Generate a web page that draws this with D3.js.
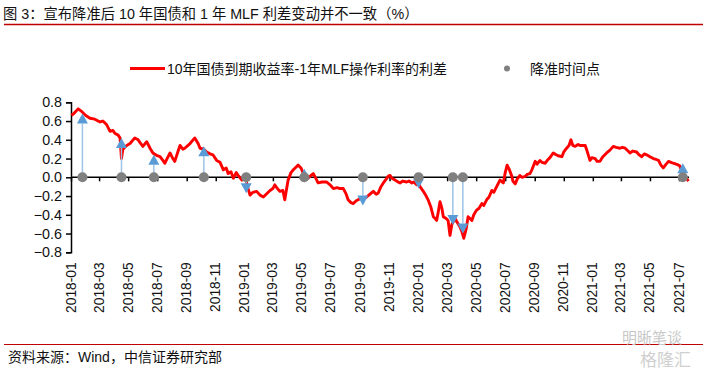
<!DOCTYPE html>
<html>
<head>
<meta charset="utf-8">
<script src="https://cdn.jsdelivr.net/npm/d3@7"></script>
<style>
  body { margin: 0; background: #fff; }
  svg { display: block; font-family: "Liberation Sans", Arial, "Noto Sans CJK SC", sans-serif; }
</style>
</head>
<body>
<script>
// 10Y CGB yield minus 1Y MLF rate
const spreadDates = [
  "2018-01-02","2018-01-07","2018-01-16","2018-01-24","2018-02-01","2018-02-10","2018-02-20","2018-03-03","2018-03-09","2018-03-17",
  "2018-03-24","2018-03-30","2018-04-03","2018-04-10","2018-04-14","2018-04-17","2018-04-20","2018-04-28","2018-05-05","2018-05-15",
  "2018-05-22","2018-05-26","2018-06-01","2018-06-09","2018-06-16","2018-06-22","2018-07-01","2018-07-07","2018-07-13","2018-07-17",
  "2018-07-24","2018-07-28","2018-08-03","2018-08-07","2018-08-14","2018-08-18","2018-08-24","2018-08-28","2018-09-08","2018-09-18",
  "2018-09-25","2018-09-29","2018-10-07","2018-10-13","2018-10-20","2018-10-26","2018-11-03","2018-11-10","2018-11-17","2018-11-23",
  "2018-11-27","2018-12-03","2018-12-08","2018-12-14","2018-12-18","2018-12-26","2018-12-30","2019-01-04","2019-01-08","2019-01-12",
  "2019-01-18","2019-01-26","2019-02-02","2019-02-09","2019-02-15","2019-02-23","2019-03-01","2019-03-05","2019-03-12","2019-03-16",
  "2019-03-22","2019-03-26","2019-04-02","2019-04-08","2019-04-13","2019-04-19","2019-04-23","2019-04-29","2019-05-04","2019-05-10",
  "2019-05-14","2019-05-20","2019-05-25","2019-05-31","2019-06-04","2019-06-12","2019-06-22","2019-06-29","2019-07-06","2019-07-14",
  "2019-07-20","2019-07-27","2019-08-02","2019-08-06","2019-08-12","2019-08-17","2019-08-23","2019-08-27","2019-09-02","2019-09-05",
  "2019-09-14","2019-09-21","2019-09-28","2019-10-04","2019-10-08","2019-10-14","2019-10-19","2019-10-25","2019-10-29","2019-11-02",
  "2019-11-06","2019-11-13","2019-11-19","2019-11-23","2019-11-29","2019-12-07","2019-12-12","2019-12-18","2019-12-22","2019-12-28",
  "2019-12-31","2020-01-04","2020-01-11","2020-01-17","2020-01-21","2020-01-27","2020-02-01","2020-02-05","2020-02-08","2020-02-11",
  "2020-02-15","2020-02-19","2020-02-22","2020-02-28","2020-03-03","2020-03-07","2020-03-11","2020-03-18","2020-03-22","2020-03-28",
  "2020-04-01","2020-04-05","2020-04-10","2020-04-14","2020-04-18","2020-04-22","2020-04-26","2020-05-02","2020-05-07","2020-05-13",
  "2020-05-17","2020-05-23","2020-05-28","2020-06-03","2020-06-07","2020-06-13","2020-06-16","2020-06-20","2020-06-27","2020-07-01",
  "2020-07-05","2020-07-09","2020-07-15","2020-07-17","2020-07-22","2020-07-26","2020-08-01","2020-08-05","2020-08-12","2020-08-16",
  "2020-08-22","2020-08-26","2020-09-02","2020-09-06","2020-09-12","2020-09-16","2020-09-23","2020-09-29","2020-10-03","2020-10-10",
  "2020-10-16","2020-10-20","2020-10-28","2020-11-01","2020-11-07","2020-11-12","2020-11-16","2020-11-20","2020-11-25","2020-12-01",
  "2020-12-05","2020-12-11","2020-12-16","2020-12-20","2020-12-26","2020-12-30","2021-01-06","2021-01-10","2021-01-16","2021-01-22",
  "2021-01-30","2021-02-06","2021-02-13","2021-02-19","2021-02-27","2021-03-04","2021-03-10","2021-03-16","2021-03-20","2021-03-26",
  "2021-04-03","2021-04-08","2021-04-14","2021-04-19","2021-04-24","2021-05-01","2021-05-08","2021-05-14","2021-05-19","2021-05-24",
  "2021-05-29","2021-06-04","2021-06-09","2021-06-14","2021-06-19","2021-06-25","2021-06-30","2021-07-03","2021-07-07","2021-07-12",
  "2021-07-18","2021-07-21"
];
const spreadValues = [
  0.66,0.68,0.73,0.70,0.66,0.63,0.62,0.59,0.60,0.56,
  0.49,0.50,0.47,0.45,0.42,0.20,0.30,0.34,0.36,0.42,
  0.40,0.37,0.33,0.38,0.31,0.26,0.23,0.22,0.18,0.15,
  0.22,0.26,0.20,0.17,0.28,0.34,0.30,0.31,0.36,0.42,
  0.36,0.31,0.30,0.27,0.25,0.24,0.18,0.16,0.08,0.10,
  0.04,0.06,-0.01,0.05,0.02,-0.03,0.02,-0.04,-0.12,-0.19,
  -0.16,-0.15,-0.19,-0.21,-0.18,-0.14,-0.12,-0.08,-0.13,-0.15,
  -0.14,-0.24,-0.03,0.05,0.08,0.11,0.13,0.10,0.04,0.02,
  -0.01,0.02,0.04,-0.02,-0.06,-0.05,-0.05,-0.08,-0.12,-0.11,
  -0.12,-0.12,-0.18,-0.24,-0.27,-0.28,-0.25,-0.24,-0.22,-0.24,
  -0.21,-0.18,-0.15,-0.18,-0.17,-0.10,-0.06,-0.02,0.01,0.02,
  -0.01,-0.03,-0.05,-0.06,-0.04,-0.05,-0.04,-0.06,-0.05,-0.08,
  -0.05,-0.10,-0.15,-0.20,-0.24,-0.32,-0.42,-0.44,-0.46,-0.38,
  -0.26,-0.33,-0.42,-0.44,-0.46,-0.62,-0.50,-0.44,-0.48,-0.53,
  -0.58,-0.65,-0.55,-0.42,-0.44,-0.46,-0.40,-0.35,-0.33,-0.28,
  -0.30,-0.24,-0.21,-0.14,-0.16,-0.10,-0.07,-0.03,-0.06,0.05,
  0.13,0.09,0.01,-0.04,-0.07,-0.02,0.02,0.00,0.01,0.03,
  0.04,0.08,0.17,0.14,0.18,0.16,0.15,0.19,0.21,0.26,
  0.24,0.23,0.22,0.27,0.31,0.34,0.40,0.34,0.33,0.35,
  0.34,0.34,0.34,0.28,0.18,0.21,0.20,0.17,0.17,0.22,
  0.26,0.29,0.33,0.32,0.31,0.32,0.31,0.28,0.26,0.28,
  0.27,0.24,0.22,0.25,0.24,0.22,0.20,0.19,0.18,0.13,
  0.10,0.14,0.17,0.16,0.15,0.14,0.13,0.12,0.06,0.02,
  -0.02,-0.04
];

// RRR cut announcements and where each arrow ends
const cutDates = ["2018-01-25","2018-04-17","2018-06-24","2018-10-07","2019-01-04","2019-05-06",
  "2019-09-06","2020-01-01","2020-03-13","2020-04-03","2021-07-09"];
const cutArrowValues = [0.68, 0.42, 0.24, 0.33, -0.17, 0.09, -0.30, -0.12, -0.51, -0.60, 0.15];

const yTicks = [-0.8, -0.6, -0.4, -0.2, 0.0, 0.2, 0.4, 0.6, 0.8];
const xTickMonths = [
  "2018-01","2018-03","2018-05","2018-07","2018-09","2018-11",
  "2019-01","2019-03","2019-05","2019-07","2019-09","2019-11",
  "2020-01","2020-03","2020-05","2020-07","2020-09","2020-11",
  "2021-01","2021-03","2021-05","2021-07"
];

const titleText = "图 3：宣布降准后 10 年国债和 1 年 MLF 利差变动并不一致（%）";
const seriesName = "10年国债到期收益率-1年MLF操作利率的利差";
const dotName = "降准时间点";
const sourceText = "资料来源：Wind，中信证券研究部";

const W = 706, H = 375;
const parse = d3.timeParse("%Y-%m-%d");
const parseMonth = d3.timeParse("%Y-%m");

const svg = d3.select("body").append("svg")
  .attr("width", W)
  .attr("height", H);

svg.append("rect").attr("width", W).attr("height", H).attr("fill", "#fff");

const x = d3.scaleTime()
  .domain([parse("2018-01-01"), parse("2021-07-01")])
  .range([71, 679]);
const y = d3.scaleLinear()
  .domain([-0.8, 0.8])
  .range([252.3, 102.3]);

// title + rule
svg.append("text")
  .attr("x", 3).attr("y", 19)
  .attr("font-size", 14.3)
  .attr("fill", "#111")
  .text(titleText);
svg.append("line")
  .attr("x1", 4).attr("x2", 703)
  .attr("y1", 24.5).attr("y2", 24.5)
  .attr("stroke", "#C00000").attr("stroke-width", 1.5);

// legend
const legend = svg.append("g");
legend.append("line")
  .attr("x1", 130).attr("x2", 165)
  .attr("y1", 68.5).attr("y2", 68.5)
  .attr("stroke", "#FF0000").attr("stroke-width", 2.8);
legend.append("text")
  .attr("x", 167).attr("y", 73.5)
  .attr("font-size", 14)
  .attr("fill", "#111")
  .text(seriesName);
legend.append("circle")
  .attr("cx", 507).attr("cy", 68.5).attr("r", 3)
  .attr("fill", "#808080");
legend.append("text")
  .attr("x", 530).attr("y", 73.5)
  .attr("font-size", 14)
  .attr("fill", "#111")
  .text(dotName);

// y axis
const yAxis = d3.axisLeft(y)
  .tickValues(yTicks)
  .tickSize(5)
  .tickPadding(4)
  .tickFormat(d3.format(".1f"));
const gy = svg.append("g")
  .attr("transform", "translate(71,0)")
  .call(yAxis);
gy.select(".domain").attr("stroke", "#000").attr("stroke-width", 1.5);
gy.selectAll(".tick line").attr("stroke", "#000").attr("stroke-width", 1.5);
gy.selectAll(".tick text")
  .attr("font-size", 14.3)
  .attr("fill", "#111")
  .attr("font-family", "inherit");

// x axis sits on zero
const xAxis = d3.axisBottom(x)
  .tickValues(xTickMonths.map(parseMonth))
  .tickSize(4)
  .tickSizeOuter(0)
  .tickFormat(d3.timeFormat("%Y-%m"));
const gx = svg.append("g")
  .attr("transform", "translate(0," + y(0) + ")")
  .call(xAxis);
gx.select(".domain")
  .attr("d", "M71,0H689")
  .attr("stroke", "#000").attr("stroke-width", 1.5);
gx.selectAll(".tick line").attr("stroke", "#000").attr("stroke-width", 1.5);
gx.selectAll(".tick text")
  .attr("font-size", 13.8)
  .attr("fill", "#111")
  .attr("font-family", "inherit")
  .attr("text-anchor", "end")
  .attr("dy", null)
  .attr("y", 0)
  .attr("transform", "translate(4," + (252.3 - y(0) + 10) + ") rotate(-90)");

// spread line
const spread = spreadDates.map((d, i) => ({ date: parse(d), v: spreadValues[i] }));
const line = d3.line()
  .x(d => x(d.date))
  .y(d => y(d.v));
svg.append("path")
  .datum(spread)
  .attr("d", line)
  .attr("fill", "none")
  .attr("stroke", "#FF0000")
  .attr("stroke-width", 2.9)
  .attr("stroke-linejoin", "round");

// arrows from zero to the spread at each cut
const cuts = cutDates.map((d, i) => ({ date: parse(d), v: cutArrowValues[i] }));
const triH = 10, triW = 11;
const arrows = svg.append("g");
arrows.selectAll("line")
  .data(cuts)
  .join("line")
  .attr("x1", d => x(d.date)).attr("x2", d => x(d.date))
  .attr("y1", y(0))
  .attr("y2", d => y(d.v) + (d.v > 0 ? triH : -triH))
  .attr("stroke", "#9DC3E6")
  .attr("stroke-width", 1.5);
arrows.selectAll("path")
  .data(cuts)
  .join("path")
  .attr("d", d => {
    const cx = x(d.date), ty = y(d.v);
    const by = ty + (d.v > 0 ? triH : -triH);
    return "M" + cx + "," + ty + "L" + (cx - triW / 2) + "," + by + "L" + (cx + triW / 2) + "," + by + "Z";
  })
  .attr("fill", "#5B9BD5");

// cut dots
svg.append("g").selectAll("circle")
  .data(cuts)
  .join("circle")
  .attr("cx", d => x(d.date))
  .attr("cy", y(0))
  .attr("r", 5)
  .attr("fill", "#808080");

// footer
svg.append("line")
  .attr("x1", 4).attr("x2", 703)
  .attr("y1", 344.5).attr("y2", 344.5)
  .attr("stroke", "#C00000").attr("stroke-width", 1.2);
svg.append("text")
  .attr("x", 8).attr("y", 362)
  .attr("font-size", 14)
  .attr("fill", "#111")
  .text(sourceText);

// watermark
svg.append("text")
  .attr("x", 622).attr("y", 343)
  .attr("font-size", 15)
  .attr("fill", "#c8c8c8")
  .text("明晰笔谈");
svg.append("text")
  .attr("x", 640).attr("y", 366)
  .attr("font-size", 17)
  .attr("fill", "#d0d0d0")
  .text("格隆汇");
</script>
</body>
</html>
